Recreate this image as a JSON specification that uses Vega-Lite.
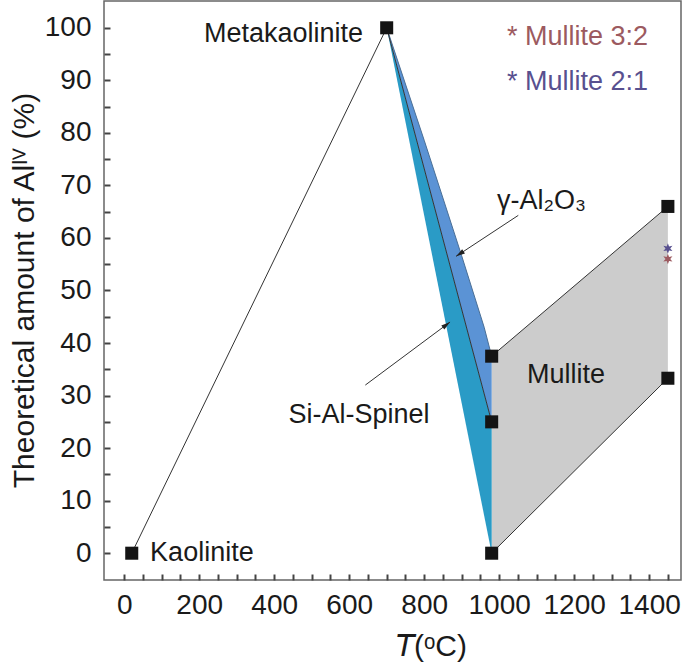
{
  "$schema": "https://vega.github.io/schema/vega-lite/v6.json",
  "width": 577,
  "height": 579,
  "autosize": {"type": "none"},
  "padding": {"left": 104, "top": 1, "right": 4, "bottom": 84},
  "background": "white",
  "config": {
    "font": "Liberation Sans",
    "view": {"stroke": "#666666", "strokeWidth": 1.5},
    "axis": {"grid": false, "domain": false, "labelColor": "#1a1a1a", "titleColor": "#1a1a1a", "labelFont": "Liberation Sans", "titleFont": "Liberation Sans", "titleFontWeight": "normal"}
  },
  "datasets": {
    "pts": [
      {"T": 20, "A": 0},
      {"T": 700, "A": 100},
      {"T": 980, "A": 0},
      {"T": 980, "A": 25},
      {"T": 980, "A": 37.5},
      {"T": 1450, "A": 66},
      {"T": 1450, "A": 33.3}
    ],
    "areas": [
      {"region": "Mullite", "T": 980, "A": 37.5, "A2": 0},
      {"region": "Mullite", "T": 1450, "A": 66, "A2": 33.3},
      {"region": "Si-Al-Spinel", "T": 700, "A": 100, "A2": 100},
      {"region": "Si-Al-Spinel", "T": 980, "A": 25, "A2": 0},
      {"region": "gamma", "T": 700, "A": 100, "A2": 100},
      {"region": "gamma", "T": 800, "A": 78.6, "A2": 73.2},
      {"region": "gamma", "T": 900, "A": 56.6, "A2": 46.4},
      {"region": "gamma", "T": 960, "A": 43, "A2": 30.4},
      {"region": "gamma", "T": 980, "A": 37.5, "A2": 25}
    ],
    "lines": [
      {"seg": "k", "T": 20, "A": 0},
      {"seg": "k", "T": 700, "A": 100},
      {"seg": "mid", "T": 700, "A": 100},
      {"seg": "mid", "T": 980, "A": 25},
      {"seg": "mtop", "T": 980, "A": 37.5},
      {"seg": "mtop", "T": 1450, "A": 66},
      {"seg": "mbot", "T": 980, "A": 0},
      {"seg": "mbot", "T": 1450, "A": 33.3},
      {"seg": "arrowG", "T": 1051, "A": 64.3},
      {"seg": "arrowG", "T": 885, "A": 56.5},
      {"seg": "arrowS", "T": 643, "A": 32},
      {"seg": "arrowS", "T": 869, "A": 44}
    ],
    "edge": [
      {"T": 700, "A": 100},
      {"T": 800, "A": 78.6},
      {"T": 900, "A": 56.6},
      {"T": 960, "A": 43},
      {"T": 980, "A": 37.5}
    ],
    "heads": [
      {"name": "g", "T": 885, "A": 56.5},
      {"name": "s", "T": 869, "A": 44}
    ],
    "labels": [
      {"text": "Kaolinite", "T": 69, "A": -1.5},
      {"text": "Mullite", "T": 1074, "A": 32.3},
      {"text": "Si-Al-Spinel", "T": 438, "A": 24.7},
      {"text": "γ-Al₂O₃", "T": 994, "A": 65.6}
    ],
    "meta": [
      {"text": "Metakaolinite", "T": 637, "A": 97.3}
    ],
    "legend": [
      {"text": "* Mullite 3:2", "s": "Mullite 3:2", "T": 1021, "A": 96.7},
      {"text": "* Mullite 2:1", "s": "Mullite 2:1", "T": 1021, "A": 88.1}
    ],
    "stars": [
      {"s": "Mullite 2:1", "T": 1450, "A": 58},
      {"s": "Mullite 3:2", "T": 1450, "A": 56}
    ]
  },
  "encoding": {
    "x": {
      "field": "T", "type": "quantitative",
      "scale": {"domain": [-54, 1485], "nice": false, "zero": false},
      "axis": {
        "orient": "bottom",
        "zindex": 2,
        "ticks": true,
        "tickSize": -6,
        "tickColor": "#444444",
        "tickWidth": 2,
        "values": [0,50,100,150,200,250,300,350,400,450,500,550,600,650,700,750,800,850,900,950,1000,1050,1100,1150,1200,1250,1300,1350,1400,1450],
        "format": "d",
        "labelExpr": "datum.value % 200 === 0 ? datum.label : ''",
        "labelPadding": 17,
        "labelFontSize": 28,
        "title": "𝘛(ᵒC)",
        "titleFontSize": 30,
        "titleX": 327,
        "titleY": 75,
        "titleAlign": "center",
        "titleBaseline": "alphabetic"
      }
    },
    "y": {
      "field": "A", "type": "quantitative",
      "scale": {"domain": [-5.1, 105.1], "nice": false, "zero": false},
      "axis": {
        "orient": "left",
        "zindex": 2,
        "ticks": true,
        "tickSize": -6,
        "tickColor": "#444444",
        "tickWidth": 2,
        "values": [0,5,10,15,20,25,30,35,40,45,50,55,60,65,70,75,80,85,90,95,100],
        "labelExpr": "datum.value % 10 === 0 ? datum.label : ''",
        "labelPadding": 19,
        "labelFontSize": 28,
        "labelBaseline": "middle",
        "title": "Theoretical amount of Alᴵⱽ (%)",
        "titleFontSize": 30,
        "titleAngle": -90,
        "titleX": -71,
        "titleY": 289,
        "titleAlign": "center",
        "titleBaseline": "alphabetic"
      }
    }
  },
  "layer": [
    {
      "data": {"name": "areas"},
      "transform": [{"filter": "datum.region === 'Mullite'"}],
      "mark": {"type": "area", "color": "#cccccc", "opacity": 1},
      "encoding": {"y2": {"field": "A2"}}
    },
    {
      "data": {"name": "areas"},
      "transform": [{"filter": "datum.region === 'Si-Al-Spinel'"}],
      "mark": {"type": "area", "color": "#2a9bc6", "opacity": 1},
      "encoding": {"y2": {"field": "A2"}}
    },
    {
      "data": {"name": "areas"},
      "transform": [{"filter": "datum.region === 'gamma'"}],
      "mark": {"type": "area", "color": "#5b93d5", "opacity": 1},
      "encoding": {"y2": {"field": "A2"}}
    },
    {
      "data": {"name": "edge"},
      "mark": {"type": "line", "color": "#4a6f96", "strokeWidth": 1},
      "encoding": {}
    },
    {
      "data": {"name": "lines"},
      "mark": {"type": "line", "color": "#333333", "strokeWidth": 1},
      "encoding": {
        "detail": {"field": "seg", "type": "nominal"}
      }
    },
    {
      "data": {"name": "heads"},
      "transform": [{"filter": "datum.name === 'g'"}],
      "mark": {"type": "point", "shape": "M0,0L-0.28,1L0.28,1Z", "filled": true, "color": "#222222", "opacity": 1, "size": 324, "angle": 236.6}
    },
    {
      "data": {"name": "heads"},
      "transform": [{"filter": "datum.name === 's'"}],
      "mark": {"type": "point", "shape": "M0,0L-0.28,1L0.28,1Z", "filled": true, "color": "#222222", "opacity": 1, "size": 324, "angle": 53.3}
    },
    {
      "data": {"name": "pts"},
      "mark": {"type": "point", "shape": "square", "filled": true, "color": "#141414", "opacity": 1, "size": 170}
    },
    {
      "data": {"name": "stars"},
      "mark": {"type": "point", "shape": "M0,-1L0.225,-0.39L0.866,-0.5L0.45,0L0.866,0.5L0.225,0.39L0,1L-0.225,0.39L-0.866,0.5L-0.45,0L-0.866,-0.5L-0.225,-0.39Z", "filled": true, "opacity": 1, "size": 110},
      "encoding": {
        "color": {"field": "s", "type": "nominal", "legend": null,
          "scale": {"domain": ["Mullite 3:2", "Mullite 2:1"], "range": ["#9c5a60", "#58508f"]}}
      }
    },
    {
      "data": {"name": "labels"},
      "mark": {"type": "text", "align": "left", "baseline": "alphabetic", "fontSize": 27, "color": "#1a1a1a"},
      "encoding": {"text": {"field": "text"}}
    },
    {
      "data": {"name": "meta"},
      "mark": {"type": "text", "align": "right", "baseline": "alphabetic", "fontSize": 27, "color": "#1a1a1a"},
      "encoding": {"text": {"field": "text"}}
    },
    {
      "data": {"name": "legend"},
      "mark": {"type": "text", "align": "left", "baseline": "alphabetic", "fontSize": 27},
      "encoding": {
        "text": {"field": "text"},
        "color": {"field": "s", "type": "nominal", "legend": null}
      }
    }
  ]
}
